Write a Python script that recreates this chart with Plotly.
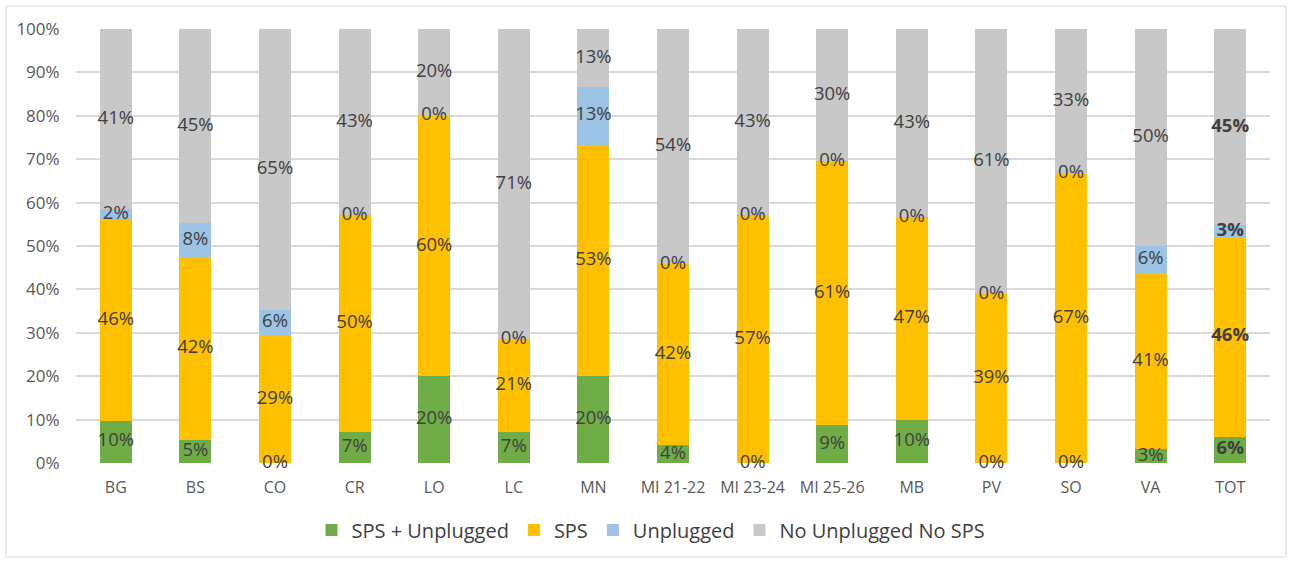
import plotly.graph_objects as go

categories = ["BG", "BS", "CO", "CR", "LO", "LC", "MN", "MI 21-22", "MI 23-24",
              "MI 25-26", "MB", "PV", "SO", "VA", "TOT"]

sps_unplugged = [9.76, 5.26, 0.0, 7.14, 20.0, 7.14, 20.0, 4.17, 0.0, 8.70, 10.0, 0.0, 0.0, 3.13, 6.1]
sps = [46.34, 42.11, 29.41, 50.0, 60.0, 21.43, 53.33, 41.67, 57.14, 60.87, 46.67, 38.89, 66.67, 40.63, 46.0]
unplugged = [2.44, 7.89, 5.88, 0.0, 0.0, 0.0, 13.33, 0.0, 0.0, 0.0, 0.0, 0.0, 0.0, 6.25, 2.7]
no_unplugged_no_sps = [41.46, 44.74, 64.71, 42.86, 20.0, 71.43, 13.33, 54.17, 42.86, 30.43, 43.33, 61.11, 33.33, 50.0, 45.2]

series_names = ["SPS + Unplugged", "SPS", "Unplugged", "No Unplugged No SPS"]
series_values = [sps_unplugged, sps, unplugged, no_unplugged_no_sps]
colors = ["#70AD47", "#FFC000", "#9DC3E6", "#C8C8C8"]

FONT = "Open Sans"
W, H = 1291, 561
ML, MR, MT, MB = 76, 21, 29, 98
PW, PH = W - ML - MR, H - MT - MB

fig = go.Figure()
for name, vals, col in zip(series_names, series_values, colors):
    fig.add_trace(go.Bar(x=categories, y=vals, name=name, marker=dict(color=col, line=dict(width=0)),
                         hoverinfo="skip"))

# data labels centred on each segment (zero segments sit on the boundary)
base = [0.0] * len(categories)
for name, vals in zip(series_names, series_values):
    ys, txt = [], []
    for i, v in enumerate(vals):
        ys.append(base[i] + v / 2)
        lab = f"{int(v + 0.5)}%"
        if categories[i] == "TOT":
            lab = f"<b>{lab}</b>"
        txt.append(lab)
        base[i] += v
    fig.add_trace(go.Scatter(x=categories, y=ys, mode="text", text=txt, showlegend=False,
                             textfont=dict(family=FONT, size=18.5, color="#404040"),
                             hoverinfo="skip", cliponaxis=False))

def px_x(p):
    return (p - ML) / PW

def px_y(p):
    return (MT + PH - p) / PH

fig.add_shape(type="rect", xref="paper", yref="paper",
              x0=px_x(6), x1=px_x(1286), y0=px_y(557), y1=px_y(6),
              line=dict(color="#D9D9D9", width=1), fillcolor="rgba(0,0,0,0)", layer="below")

fig.update_layout(
    width=W, height=H,
    margin=dict(l=ML, r=MR, t=MT, b=MB),
    barmode="stack", bargap=0.6,
    plot_bgcolor="white", paper_bgcolor="white",
    font=dict(family=FONT, color="#595959"),
    legend=dict(orientation="h", x=px_x(651), xanchor="center", y=px_y(530), yanchor="middle",
                font=dict(family=FONT, size=20, color="#404040"), traceorder="normal"),
    xaxis=dict(range=[-0.5, len(categories) - 0.5], showgrid=False,
               tickfont=dict(size=16, color="#595959"), ticks="outside",
               ticklen=10, tickcolor="rgba(0,0,0,0)", showline=False),
    yaxis=dict(range=[0, 100], dtick=10, ticksuffix="%", showgrid=True, gridcolor="#D9D9D9",
               gridwidth=1.5, zeroline=False, tickfont=dict(size=17, color="#595959"),
               ticks="outside", ticklen=12, tickcolor="rgba(0,0,0,0)"),
)

fig.write_html("out.html", config={"displayModeBar": False},
               post_script="document.body.style.margin='0px';")
